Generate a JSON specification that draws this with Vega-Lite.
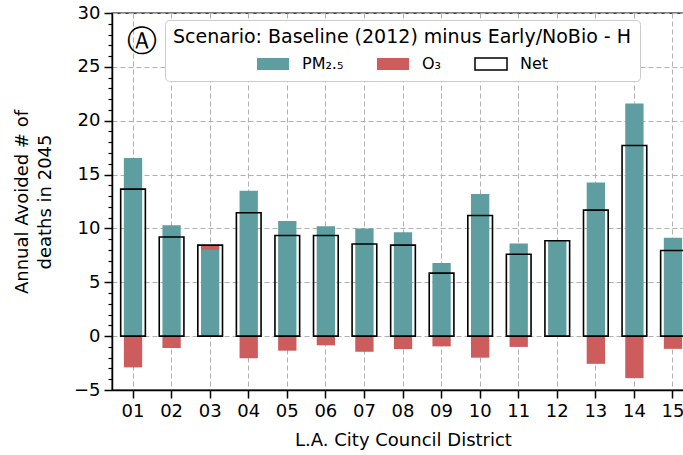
{
  "$schema": "https://vega.github.io/schema/vega-lite/v6.json",
  "autosize": "none",
  "padding": {"left": 112, "top": 13, "right": 0, "bottom": 65},
  "width": 582,
  "height": 377,
  "title": {"text": "Ⓐ", "anchor": "start", "frame": "group", "orient": "top", "dx": 15, "offset": 0, "dy": 68, "fontSize": 30, "fontWeight": "normal", "color": "black", "baseline": "middle"},
  "data": {"values": [
    {"district": "01", "series": "PM₂.₅", "value": 16.55}, {"district": "01", "series": "O₃", "value": -2.9}, {"district": "01", "series": "Net", "value": 13.65},
    {"district": "02", "series": "PM₂.₅", "value": 10.3}, {"district": "02", "series": "O₃", "value": -1.1}, {"district": "02", "series": "Net", "value": 9.2},
    {"district": "03", "series": "PM₂.₅", "value": 8.0}, {"district": "03", "series": "O₃", "value": 0.45}, {"district": "03", "series": "Net", "value": 8.45},
    {"district": "04", "series": "PM₂.₅", "value": 13.5}, {"district": "04", "series": "O₃", "value": -2.05}, {"district": "04", "series": "Net", "value": 11.45},
    {"district": "05", "series": "PM₂.₅", "value": 10.7}, {"district": "05", "series": "O₃", "value": -1.35}, {"district": "05", "series": "Net", "value": 9.35},
    {"district": "06", "series": "PM₂.₅", "value": 10.2}, {"district": "06", "series": "O₃", "value": -0.85}, {"district": "06", "series": "Net", "value": 9.35},
    {"district": "07", "series": "PM₂.₅", "value": 10.0}, {"district": "07", "series": "O₃", "value": -1.45}, {"district": "07", "series": "Net", "value": 8.55},
    {"district": "08", "series": "PM₂.₅", "value": 9.65}, {"district": "08", "series": "O₃", "value": -1.2}, {"district": "08", "series": "Net", "value": 8.45},
    {"district": "09", "series": "PM₂.₅", "value": 6.8}, {"district": "09", "series": "O₃", "value": -0.95}, {"district": "09", "series": "Net", "value": 5.85},
    {"district": "10", "series": "PM₂.₅", "value": 13.2}, {"district": "10", "series": "O₃", "value": -2.0}, {"district": "10", "series": "Net", "value": 11.2},
    {"district": "11", "series": "PM₂.₅", "value": 8.6}, {"district": "11", "series": "O₃", "value": -1.0}, {"district": "11", "series": "Net", "value": 7.6},
    {"district": "12", "series": "PM₂.₅", "value": 8.87}, {"district": "12", "series": "O₃", "value": -0.02}, {"district": "12", "series": "Net", "value": 8.85},
    {"district": "13", "series": "PM₂.₅", "value": 14.27}, {"district": "13", "series": "O₃", "value": -2.57}, {"district": "13", "series": "Net", "value": 11.7},
    {"district": "14", "series": "PM₂.₅", "value": 21.6}, {"district": "14", "series": "O₃", "value": -3.9}, {"district": "14", "series": "Net", "value": 17.7},
    {"district": "15", "series": "PM₂.₅", "value": 9.13}, {"district": "15", "series": "O₃", "value": -1.18}, {"district": "15", "series": "Net", "value": 7.95}
  ]},
  "encoding": {
    "x": {
      "field": "district", "type": "ordinal",
      "scale": {"paddingInner": 0, "paddingOuter": 0.045},
      "axis": {"title": "L.A. City Council District", "labelAngle": 0, "bandPosition": 0.5, "grid": true, "titlePadding": 11}
    }
  },
  "layer": [
    {
      "transform": [{"filter": "datum.series !== 'Net'"}],
      "mark": {"type": "bar", "width": {"band": 0.475}},
      "encoding": {
        "y": {
          "field": "value", "type": "quantitative", "stack": "zero",
          "scale": {"domain": [-5, 30], "nice": false, "zero": false},
          "axis": {"orient": "left", "title": ["Annual Avoided # of", "deaths in 2045"], "values": [-5, 0, 5, 10, 15, 20, 25, 30], "grid": true, "titlePadding": 19, "titleLineHeight": 23}
        },
        "fill": {"field": "series", "type": "nominal", "title": "Scenario: Baseline (2012) minus Early/NoBio - H",
          "scale": {"domain": ["PM₂.₅", "O₃", "Net"], "range": ["#5f9ea0", "#cd5c5c", "transparent"]}},
        "stroke": {"field": "series", "type": "nominal", "title": "Scenario: Baseline (2012) minus Early/NoBio - H",
          "scale": {"domain": ["PM₂.₅", "O₃", "Net"], "range": ["transparent", "transparent", "black"]}},
        "order": {"field": "series", "sort": "descending"}
      }
    },
    {
      "transform": [{"filter": "datum.series === 'Net'"}],
      "mark": {"type": "bar", "width": {"band": 0.64}, "strokeWidth": 1.6},
      "encoding": {
        "y": {
          "field": "value", "type": "quantitative", "stack": null,
          "axis": {"orient": "left", "title": null, "values": [-4, -3, -2, -1, 1, 2, 3, 4, 6, 7, 8, 9, 11, 12, 13, 14, 16, 17, 18, 19, 21, 22, 23, 24, 26, 27, 28, 29], "labels": false, "grid": false, "domain": false, "tickSize": 4, "tickWidth": 1.2}
        },
        "fill": {"field": "series", "type": "nominal", "title": "Scenario: Baseline (2012) minus Early/NoBio - H"},
        "stroke": {"field": "series", "type": "nominal", "title": "Scenario: Baseline (2012) minus Early/NoBio - H"}
      }
    }
  ],
  "resolve": {"axis": {"y": "independent"}},
  "config": {
    "font": "DejaVu Sans",
    "view": {"stroke": "black", "strokeWidth": 1.3},
    "axis": {
      "labelFontSize": 18, "labelColor": "black", "labelPadding": 4,
      "titleFontSize": 18, "titleFontWeight": "normal", "titleColor": "black",
      "tickSize": 8, "tickWidth": 1.5, "tickColor": "black",
      "domainColor": "black", "domainWidth": 1.5,
      "gridColor": "#b0b0b0", "gridDash": [5, 3], "gridWidth": 1
    },
    "legend": {
      "orient": "none", "legendX": 53, "legendY": 7,
      "direction": "horizontal", "columns": 3,
      "titleFontSize": 19, "titleFontWeight": "normal", "titleColor": "black", "titleAnchor": "middle", "titlePadding": 0, "titleLimit": 800,
      "labelFontSize": 16, "labelColor": "black", "labelOffset": 12,
      "symbolType": "M-1,-0.375H1V0.375H-1Z", "symbolSize": 1024, "symbolStrokeWidth": 1.5,
      "columnPadding": 30, "padding": 8,
      "fillColor": "white", "strokeColor": "#cccccc", "cornerRadius": 4
    }
  }
}
